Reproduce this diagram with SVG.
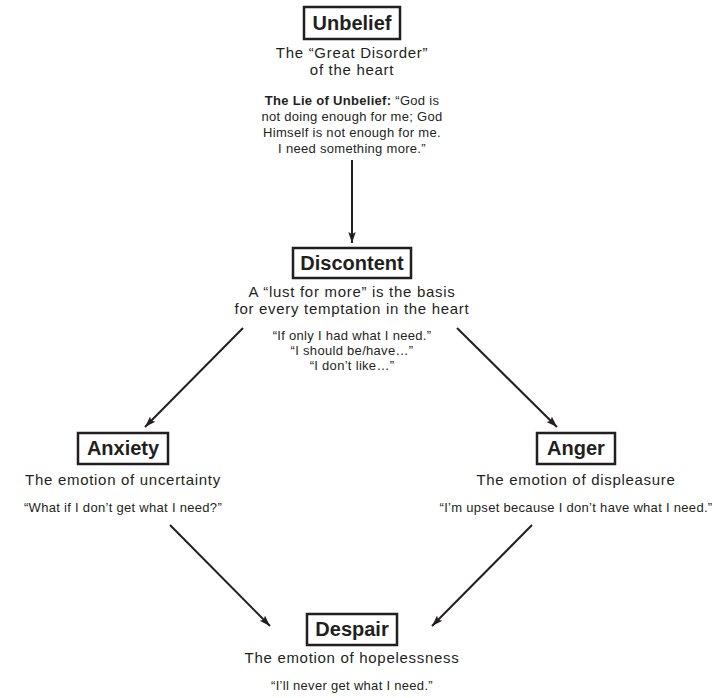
<svg xmlns="http://www.w3.org/2000/svg" width="721" height="698" viewBox="0 0 721 698">
<defs>
<marker id="ah" viewBox="0 0 10 10" refX="10" refY="5" markerWidth="5.5" markerHeight="5.5" orient="auto" markerUnits="strokeWidth">
<path d="M0,1.6 L10,5 L0,8.4 L2,5 Z" fill="#231f20"/>
</marker>
<style>
.box{fill:#fff;stroke:#231f20;stroke-width:2.5}
.title{font-family:"Liberation Sans",Arial,sans-serif;font-weight:bold;font-size:20px;fill:#231f20;text-anchor:middle}
.sub{font-family:"Liberation Sans",Arial,sans-serif;font-size:15px;letter-spacing:0.7px;fill:#231f20;text-anchor:middle}
.q{font-family:"Liberation Sans",Arial,sans-serif;font-size:13px;letter-spacing:0.3px;fill:#231f20;text-anchor:middle}
.b{font-weight:bold}
.conn line{stroke:#231f20;stroke-width:2;marker-end:url(#ah)}
</style>
</defs>
<rect width="721" height="698" fill="#fff"/>
<g id="connectors" class="conn">
<line x1="352" y1="160" x2="352" y2="243"/>
<line x1="243" y1="328" x2="145" y2="427"/>
<line x1="457" y1="328" x2="557" y2="427"/>
<line x1="170" y1="525" x2="270" y2="626"/>
<line x1="532" y1="525" x2="432" y2="626"/>
</g>
<g id="unbelief">
<rect class="box" x="304" y="7" width="96" height="32"/>
<text class="title" x="352" y="30">Unbelief</text>
<text class="sub" x="352" y="58">The “Great Disorder”<tspan x="352" dy="17">of the heart</tspan></text>
<text class="q" x="352" y="105"><tspan class="b">The Lie of Unbelief:</tspan> “God is<tspan x="352" dy="16">not doing enough for me; God</tspan><tspan x="352" dy="16">Himself is not enough for me.</tspan><tspan x="352" dy="16">I need something more.”</tspan></text>
</g>
<g id="discontent">
<rect class="box" x="293" y="248" width="118" height="30"/>
<text class="title" x="352" y="270">Discontent</text>
<text class="sub" x="352" y="297">A “lust for more” is the basis<tspan x="352" dy="17">for every temptation in the heart</tspan></text>
<text class="q" x="352" y="340">“If only I had what I need.”<tspan x="352" dy="15">“I should be/have…”</tspan><tspan x="352" dy="15">“I don’t like…”</tspan></text>
</g>
<g id="anxiety">
<rect class="box" x="78" y="433" width="90" height="31"/>
<text class="title" x="123" y="455">Anxiety</text>
<text class="sub" x="123" y="485">The emotion of uncertainty</text>
<text class="q" x="123" y="512">“What if I don’t get what I need?”</text>
</g>
<g id="anger">
<rect class="box" x="537" y="433" width="78" height="31"/>
<text class="title" x="576" y="455">Anger</text>
<text class="sub" x="576" y="485">The emotion of displeasure</text>
<text class="q" x="576" y="512">“I’m upset because I don’t have what I need.”</text>
</g>
<g id="despair">
<rect class="box" x="307" y="614" width="90" height="31"/>
<text class="title" x="352" y="636">Despair</text>
<text class="sub" x="352" y="663">The emotion of hopelessness</text>
<text class="q" x="352" y="690">“I’ll never get what I need.”</text>
</g>
</svg>
